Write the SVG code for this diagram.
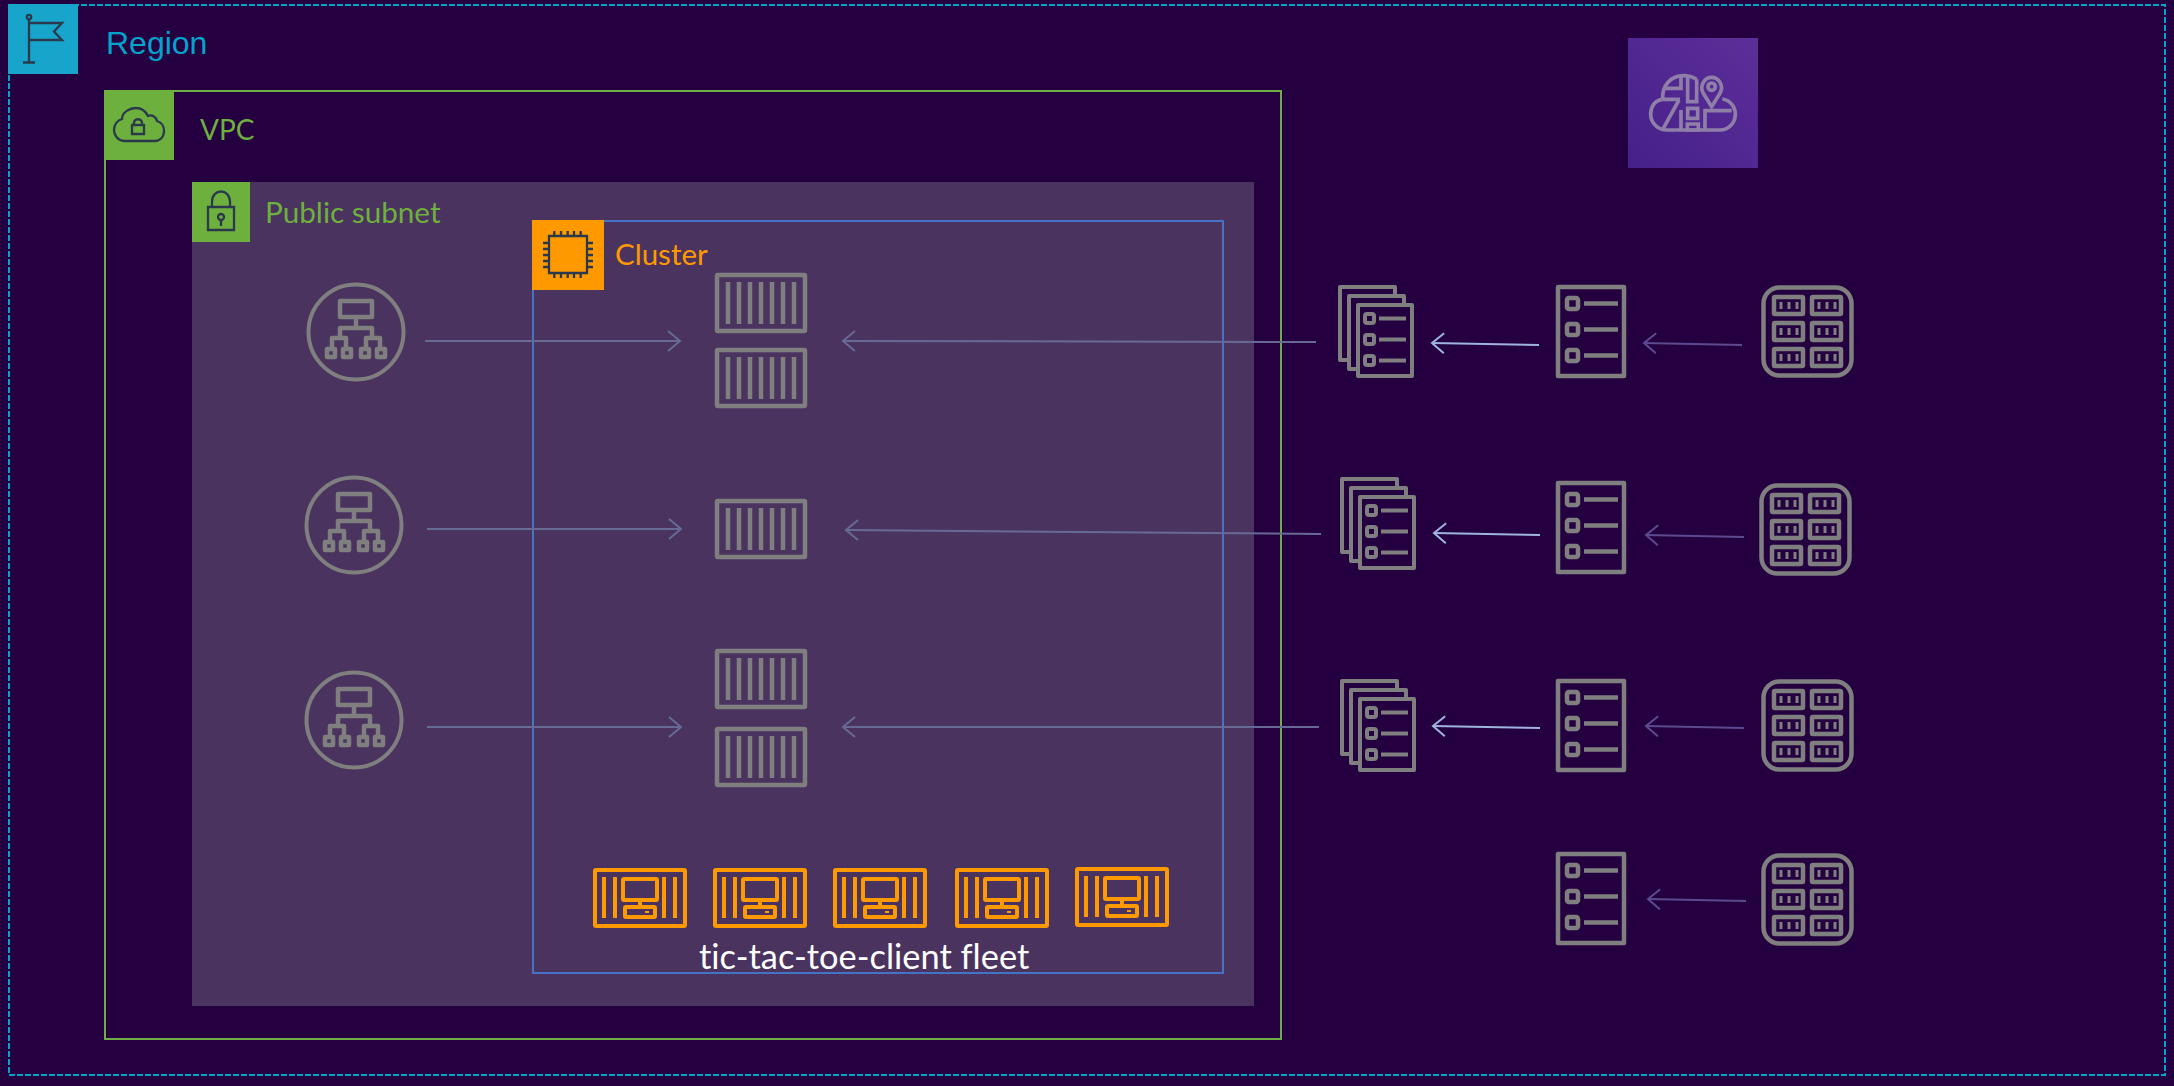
<svg xmlns="http://www.w3.org/2000/svg" width="2174" height="1086" viewBox="0 0 2174 1086">
<style>
text{font-family:"Lato","Liberation Sans",sans-serif;font-variant-ligatures:none}
.ic{fill:none;stroke:#7f7f7f;stroke-width:4.500;stroke-linejoin:round}
.or{fill:none;stroke:#ff9900;stroke-width:4;stroke-linejoin:round}
.dk{fill:none;stroke:#2a3a4c;stroke-width:2.300}
.m{fill:none;stroke:#8f7fa8;stroke-width:11}
.a1{fill:none;stroke:#686a96;stroke-width:2;marker-end:url(#h1)}
.a2{fill:none;stroke:#9db4dc;stroke-width:2;marker-end:url(#h2)}
.a3{fill:none;stroke:#5b4b8e;stroke-width:2;marker-end:url(#h3)}
</style>
<defs>
<marker id="h1" markerUnits="userSpaceOnUse" markerWidth="16" markerHeight="26" refX="14" refY="12" orient="auto"><path d="M2 2L14 12L2 22" fill="none" stroke="#686a96" stroke-width="2"/></marker>
<marker id="h2" markerUnits="userSpaceOnUse" markerWidth="16" markerHeight="26" refX="14" refY="12" orient="auto"><path d="M2 2L14 12L2 22" fill="none" stroke="#9db4dc" stroke-width="2"/></marker>
<marker id="h3" markerUnits="userSpaceOnUse" markerWidth="16" markerHeight="26" refX="14" refY="12" orient="auto"><path d="M2 2L14 12L2 22" fill="none" stroke="#5b4b8e" stroke-width="2"/></marker>
<linearGradient id="mg" x1="0" y1="1" x2="1" y2="0"><stop offset="0" stop-color="#46208a"/><stop offset="1" stop-color="#5c2e98"/></linearGradient>
<g id="alb" class="ic"><circle r="47.500" style="stroke-width:4"/><path d="M-16-31H16V-15H-16ZM0-15V-4M-16 6V-4H16V6M-24 17V6H-10V17M10 17V6H24V17M-29 17H-21V25H-29ZM-13 17H-5V25H-13ZM5 17H13V25H5ZM21 17H29V25H21Z"/></g>
<g id="ctr" class="ic"><rect x="2" y="2" width="88" height="56" rx="1"/><path d="M13 9V51M24 9V51M35 9V51M46 9V51M57 9V51M68 9V51M79 9V51"/></g>
<g id="cli" class="or"><rect x="2" y="2" width="90" height="56" rx="1"/><path d="M11 9V50M22 9V50M71 9V50M82 9V50"/><rect x="30" y="11" width="34" height="21" rx="1"/><path d="M47 32V39"/><rect x="32" y="39" width="30" height="10" rx="1"/><path d="M52 44H56" stroke-width="2"/></g>
<g id="lst" class="ic"><rect x="2" y="2" width="66" height="89"/><rect x="11" y="13" width="11" height="11" rx="2"/><rect x="11" y="39" width="11" height="11" rx="2"/><rect x="11" y="65" width="11" height="11" rx="2"/><path d="M28 18.500H62M28 44.500H62M28 70.500H62"/></g>
<g id="mul" class="ic" style="stroke-width:4"><path d="M9 75H2V2H57V9M18 84H11V11H66V18"/><rect x="20" y="20" width="54" height="71"/><rect x="27" y="29" width="9" height="9" rx="2"/><rect x="27" y="50" width="9" height="9" rx="2"/><rect x="27" y="71" width="9" height="9" rx="2"/><path d="M41 33.500H68M41 54.500H68M41 75.500H68"/></g>
<g id="gr" class="ic"><rect x="2.500" y="2.500" width="88" height="88" rx="16"/><rect x="13" y="12" width="29" height="17" rx="1"/><rect x="51" y="12" width="29" height="17" rx="1"/><rect x="13" y="38" width="29" height="17" rx="1"/><rect x="51" y="38" width="29" height="17" rx="1"/><rect x="13" y="64" width="29" height="17" rx="1"/><rect x="51" y="64" width="29" height="17" rx="1"/><path style="stroke-width:3" d="M20 17V24M28 17V24M36 17V24M58 17V24M66 17V24M74 17V24M20 43V50M28 43V50M36 43V50M58 43V50M66 43V50M74 43V50M20 69V76M28 69V76M36 69V76M58 69V76M66 69V76M74 69V76"/></g>
</defs>

<rect width="2174" height="1086" fill="#250041"/>

<g id="region">
<rect x="9" y="5" width="2156" height="1070" fill="none" stroke="#00a5c9" stroke-width="2" stroke-dasharray="6 2"/>
<rect x="8" y="4" width="70" height="70" fill="#17a5cb"/>
<path class="dk" d="M29 19V62M23 62.500H35M29 23H62L54 31.500L62 40H29"/><circle class="dk" cx="29" cy="17" r="2.200"/>
<text x="106" y="54" font-size="32" style="font-family:'Liberation Sans',Arial,sans-serif" fill="#02a4cc">Region</text>
</g>

<g id="vpc">
<rect x="105" y="91" width="1176" height="948" fill="none" stroke="#6fae45" stroke-width="2"/>
<rect x="104" y="90" width="70" height="70" fill="#6eb03e"/>
<path class="dk" d="M125 141C117 141 114 134 114 130C114 124 118 120 122 119C122 112 130 108 136 108C142 108 146 112 148 116C152 114 156 117 157 121C161 122 164 126 164 131C164 137 160 141 155 141Z"/>
<path class="dk" d="M132 125H144V134H132ZM134 125V123C134 118 142 118 142 123V125"/>
<text x="200" y="140" font-size="28" fill="#6eb03e">VPC</text>
</g>

<g id="subnet">
<rect x="192" y="182" width="1062" height="824" fill="#4a335f"/>
<rect x="192" y="182" width="58" height="60" fill="#6eb03e"/>
<path class="dk" d="M208 207H234V230H208ZM212 207V202C212 188 230 188 230 202V207M221 220V226"/><circle class="dk" cx="221" cy="217" r="3"/>
<text x="265" y="223" font-size="29.700" fill="#6eb03e">Public subnet</text>
</g>

<g id="cluster">
<rect x="533" y="221" width="690" height="752" fill="none" stroke="#4472c4" stroke-width="2"/>
<rect x="532" y="220" width="72" height="70" fill="#ff9900"/>
<path class="dk" d="M549 236H587V273H549ZM554.300 231V236M561 231V236M567.700 231V236M574 231V236M580.700 231V236M554.300 273V278M561 273V278M567.700 273V278M574 273V278M580.700 273V278M543 243H549M543 249H549M543 255H549M543 261H549M543 267H549M587 243H593M587 249H593M587 255H593M587 261H593M587 267H593"/>
<text x="615" y="265" font-size="29.500" fill="#ff9900">Cluster</text>
</g>

<g id="connectors">
<path class="a1" d="M425 341H680"/>
<path class="a1" d="M1316 342L843 341"/>
<path class="a2" d="M1539 345L1432 343"/>
<path class="a3" d="M1742 345L1644 343"/>
<path class="a1" d="M427 529H681"/>
<path class="a1" d="M1321 534L846 530"/>
<path class="a2" d="M1540 535L1434 533"/>
<path class="a3" d="M1744 537L1646 535"/>
<path class="a1" d="M427 727H681"/>
<path class="a1" d="M1319 727H843"/>
<path class="a2" d="M1540 728L1433 726"/>
<path class="a3" d="M1744 728L1646 726"/>
<path class="a3" d="M1746 901L1648 899"/>
</g>

<use id="alb1" href="#alb" x="356" y="332"/>
<use id="alb2" href="#alb" x="354" y="525"/>
<use id="alb3" href="#alb" x="354" y="720"/>

<use id="task1" href="#ctr" x="715" y="273"/>
<use id="task2" href="#ctr" x="715" y="348"/>
<use id="task3" href="#ctr" x="715" y="499"/>
<use id="task4" href="#ctr" x="715" y="649"/>
<use id="task5" href="#ctr" x="715" y="727"/>

<use id="client1" href="#cli" x="593" y="868"/>
<use id="client2" href="#cli" x="713" y="868"/>
<use id="client3" href="#cli" x="833" y="868"/>
<use id="client4" href="#cli" x="955" y="868"/>
<use id="client5" href="#cli" x="1075" y="867"/>
<g id="fleet-label"><text x="699" y="969" font-size="34.400" fill="#ffffff">tic-tac-toe-client fleet</text></g>

<use id="multi1" href="#mul" x="1338" y="285"/>
<use id="multi2" href="#mul" x="1340" y="477"/>
<use id="multi3" href="#mul" x="1340" y="679"/>
<use id="list1" href="#lst" x="1556" y="285"/>
<use id="list2" href="#lst" x="1556" y="481"/>
<use id="list3" href="#lst" x="1556" y="679"/>
<use id="list4" href="#lst" x="1556" y="852"/>
<use id="grid1" href="#gr" x="1761" y="285"/>
<use id="grid2" href="#gr" x="1759" y="483"/>
<use id="grid3" href="#gr" x="1761" y="679"/>
<use id="grid4" href="#gr" x="1761" y="853"/>

<g id="map-service">
<rect x="1628" y="38" width="130" height="130" fill="url(#mg)"/>
<g transform="translate(1600 20) scale(.3333)" class="m">
<path d="M188 238C165 240 152 260 152 282C152 310 175 330 200 330H360C385 330 406 310 406 283C406 260 390 240 367 237M188 238C185 195 215 167 250 167C265 167 280 172 290 178"/>
<path d="M188 238H240M243 167V205H190M263 168V245H290V178M237 240L190 325M243 270V330M263 265H293V295H263ZM262 312H295V330H262ZM315 330V272H395"/>
<path d="M335 260L310 220C297 195 315 172 335 172C355 172 373 195 360 220Z"/><circle cx="335" cy="200" r="11"/>
</g>
</g>
</svg>
